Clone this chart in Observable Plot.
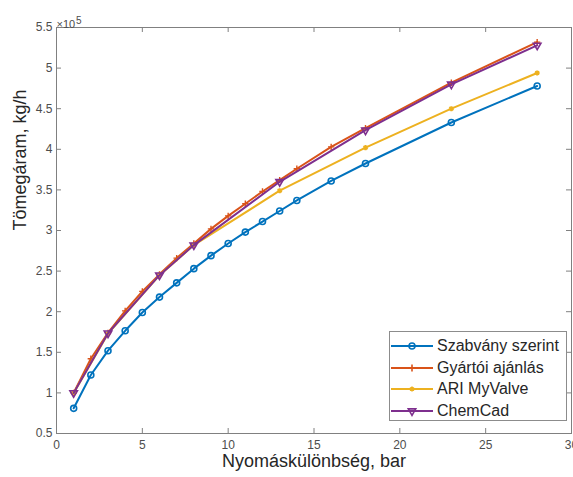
<!DOCTYPE html>
<html><head><meta charset="utf-8">
<script src="https://cdn.jsdelivr.net/npm/d3@7"></script>
<script src="https://cdn.jsdelivr.net/npm/@observablehq/plot@0.6"></script>
<style>
body{margin:0;background:#fff;}
#wrap{position:relative;width:573px;height:477px;font-family:"Liberation Sans",Arial,sans-serif;}
#legend{position:absolute;left:389px;top:331px;width:178px;height:90px;border:1px solid #8c8c8c;background:#fff;box-sizing:border-box;}
.row{position:absolute;left:0;height:20px;display:flex;align-items:center;font-size:16px;color:#262626;white-space:nowrap;}
.row svg{display:block;margin-right:3px;}
</style></head><body><div id="wrap"><div id="legend"></div></div>
<script>
// ---- data (mass flow in 1e5 kg/h vs pressure difference in bar) ----
const seriesNames = ["Szabvány szerint", "Gyártói ajánlás", "ARI MyValve", "ChemCad"];
const seriesColors = ["#0072BD", "#D95319", "#EDB120", "#7E2F8E"];
const xFull = [1, 2, 3, 4, 5, 6, 7, 8, 9, 10, 11, 12, 13, 14, 16, 18, 23, 28];
const szabvany = [0.81, 1.22, 1.52, 1.765, 1.99, 2.18, 2.355, 2.53, 2.69, 2.84, 2.98, 3.11, 3.24, 3.37, 3.61, 3.825, 4.33, 4.78];
const gyartoi = [1.0, 1.42, 1.74, 2.01, 2.25, 2.46, 2.66, 2.84, 3.02, 3.18, 3.33, 3.48, 3.62, 3.76, 4.03, 4.26, 4.82, 5.32];
const xSparse = [1, 3, 6, 8, 13, 18, 23, 28];
const ariMyValve = [1.0, 1.73, 2.45, 2.82, 3.49, 4.02, 4.50, 4.94];
const chemCad = [1.0, 1.735, 2.45, 2.82, 3.60, 4.235, 4.80, 5.28];
const xTicks = [0, 5, 10, 15, 20, 25, 30];
const yTicks = [0.5, 1, 1.5, 2, 2.5, 3, 3.5, 4, 4.5, 5, 5.5];
const xLabel = "Nyomáskülönbség, bar";
const yLabel = "Tömegáram, kg/h";
const yExpBase = "×10";
const yExp = "5";

const toRows = (xs, ys) => xs.map((x, i) => ({x, y: ys[i]}));
const dStd = toRows(xFull, szabvany);
const dGy = toRows(xFull, gyartoi);
const dAri = toRows(xSparse, ariMyValve);
const dChem = toRows(xSparse, chemCad);

const W = 573, H = 477, mL = 56, mR = 2, mT = 27, mB = 44;
const iw = W - mL - mR, ih = H - mT - mB, tk = 5;
const axisCol = "#808080";
const font = "Liberation Sans, Arial, sans-serif";

const chart = Plot.plot({
  width: W, height: H,
  marginLeft: mL, marginRight: mR, marginTop: mT, marginBottom: mB,
  style: {fontFamily: font, fontSize: "12px", color: "#4d4d4d", background: "white", overflow: "visible"},
  x: {domain: [0, 30], ticks: xTicks, tickSize: 0, tickPadding: 7, label: null},
  y: {domain: [0.5, 5.5], ticks: yTicks, tickSize: 0, tickPadding: 4, tickFormat: d => String(d), label: null},
  marks: [
    Plot.frame({stroke: axisCol}),
    Plot.tickX(xTicks, {x: d => d, insetTop: ih - tk, stroke: axisCol}),
    Plot.tickX(xTicks, {x: d => d, insetBottom: ih - tk, stroke: axisCol}),
    Plot.tickY(yTicks, {y: d => d, insetRight: iw - tk, stroke: axisCol}),
    Plot.tickY(yTicks, {y: d => d, insetLeft: iw - tk, stroke: axisCol}),
    Plot.line(dStd, {x: "x", y: "y", stroke: seriesColors[0], strokeWidth: 2}),
    Plot.dot(dStd, {x: "x", y: "y", r: 3, stroke: seriesColors[0], strokeWidth: 1.6, fill: "none"}),
    Plot.line(dGy, {x: "x", y: "y", stroke: seriesColors[1], strokeWidth: 2}),
    Plot.dot(dGy, {x: "x", y: "y", r: 2.2, symbol: "plus", stroke: seriesColors[1], strokeWidth: 1.4}),
    Plot.line(dAri, {x: "x", y: "y", stroke: seriesColors[2], strokeWidth: 2}),
    Plot.dot(dAri, {x: "x", y: "y", r: 2.4, symbol: "asterisk", stroke: seriesColors[2], strokeWidth: 2}),
    Plot.line(dChem, {x: "x", y: "y", stroke: seriesColors[3], strokeWidth: 2}),
    Plot.dot(dChem, {x: "x", y: "y", r: 2.8, symbol: "triangle", rotate: 180, stroke: seriesColors[3], strokeWidth: 1.6}),
    Plot.text([xLabel], {text: d => d, frameAnchor: "bottom", dy: 33, fontSize: 18, fill: "#262626"}),
    Plot.text([yLabel], {text: d => d, frameAnchor: "left", dx: -36, rotate: -90, fontSize: 18, fill: "#262626"}),
    Plot.text([yExpBase], {text: d => d, frameAnchor: "top-left", dx: 0, dy: -7, textAnchor: "start", fontSize: 11, fill: "#4d4d4d"}),
    Plot.text([yExp], {text: d => d, frameAnchor: "top-left", dx: 19.5, dy: -11, textAnchor: "start", fontSize: 10, fill: "#4d4d4d"})
  ]
});
const wrap = document.getElementById("wrap");
wrap.insertBefore(chart, wrap.firstChild);
chart.style.position = "absolute"; chart.style.left = "0"; chart.style.top = "0";

// ---- legend ----
const symbols = [d3.symbolCircle, d3.symbolPlus, d3.symbolAsterisk, d3.symbolTriangle];
const symSizes = [28, 18, 18, 24];
const legend = d3.select("#legend");
const rowTops = [4, 25.7, 47.4, 69];
seriesNames.forEach((name, i) => {
  const row = legend.append("div").attr("class", "row").style("top", rowTops[i] + "px");
  const svg = row.append("svg").attr("width", 44).attr("height", 20);
  svg.append("line").attr("x1", 1).attr("x2", 43).attr("y1", 10).attr("y2", 10)
    .attr("stroke", seriesColors[i]).attr("stroke-width", 2);
  svg.append("path").attr("d", d3.symbol(symbols[i], symSizes[i])())
    .attr("transform", `translate(22,10)${i === 3 ? " rotate(180)" : ""}`)
    .attr("fill", "none").attr("stroke", seriesColors[i]).attr("stroke-width", 1.6);
  row.append("span").text(name);
});
</script>
</body></html>
